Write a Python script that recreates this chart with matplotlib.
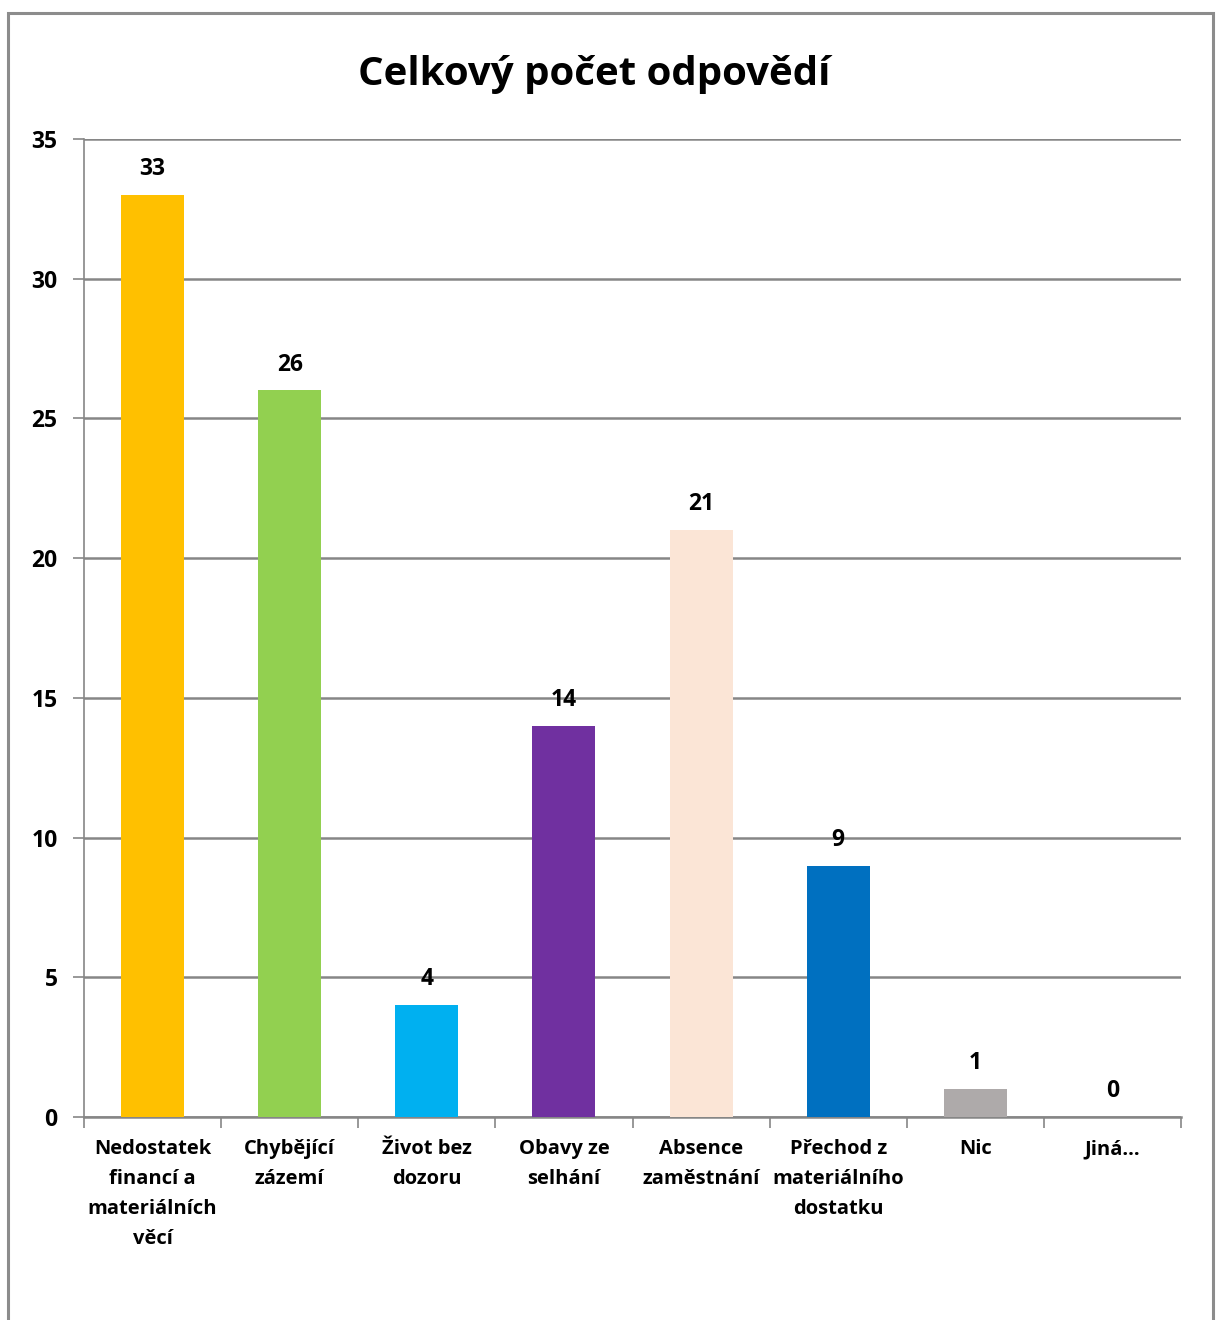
import matplotlib
matplotlib.use('Agg')
import matplotlib.pyplot as plt
from matplotlib.patches import Rectangle

plt.rcParams['font.family'] = ['Open Sans', 'DejaVu Sans']
plt.rcParams['font.weight'] = 'bold'

categories = ['Nedostatek\nfinancí a\nmateriálních\nvěcí', 'Chybějící\nzázemí',
              'Život bez\ndozoru', 'Obavy ze\nselhání', 'Absence\nzaměstnání',
              'Přechod z\nmateriálního\ndostatku', 'Nic', 'Jiná...']
values = [33, 26, 4, 14, 21, 9, 1, 0]
colors = ['#FFC000', '#92D050', '#00B0F0', '#7030A0', '#FBE5D6',
          '#0070C0', '#AEAAAA', '#FFFFFF']
yticks = [0, 5, 10, 15, 20, 25, 30, 35]

fig = plt.figure(figsize=(12.19, 13.2), dpi=100)
ax = fig.add_axes([84 / 1219, 1 - 1117 / 1320, 1097 / 1219, 978 / 1320])

# outer chart frame (bottom edge lies outside the image)
fig.patches.append(Rectangle((7.5 / 1219, -0.05), 1205 / 1219, 1 - 12.5 / 1320 + 0.05,
                             transform=fig.transFigure, fill=False,
                             edgecolor='#8C8C8C', linewidth=2.2, clip_on=False))

x = range(len(values))
ax.bar(x, values, width=0.46, color=colors, zorder=3)
for xi, v in zip(x, values):
    ax.text(xi, v + 0.5, str(v), ha='center', va='bottom', fontsize=16.5,
            fontweight='bold', zorder=4)

ax.set_xlim(-0.5, len(values) - 0.5)
ax.set_ylim(0, 35)
ax.set_yticks(yticks)
ax.set_yticklabels([str(t) for t in yticks], fontsize=16.5, fontweight='bold')
ax.yaxis.grid(True, color='#868686', linewidth=1.8, zorder=0)
ax.set_axisbelow(True)

ax.set_xticks([i + 0.5 for i in range(-1, len(values))], minor=False)
ax.set_xticklabels([])
ax.set_xticks(list(x), minor=True)
ax.set_xticklabels(categories, minor=True, fontsize=14.5, fontweight='bold',
                   linespacing=1.66, va='top')
ax.tick_params(axis='x', which='minor', length=0, pad=16)
ax.tick_params(axis='x', which='major', length=8, width=1.2, color='#868686')
ax.tick_params(axis='y', length=8, width=1.2, color='#868686', pad=11)

for s in ['top', 'right']:
    ax.spines[s].set_visible(False)
ax.spines['left'].set_color('#868686')
ax.spines['bottom'].set_color('#868686')
ax.spines['left'].set_linewidth(1.2)
ax.spines['bottom'].set_linewidth(1.8)

fig.text(594 / 1219, 1 - 75 / 1320, 'Celkový počet odpovědí', ha='center', va='center',
         fontsize=29, fontweight='bold')

fig.savefig('out.png', dpi=100)
